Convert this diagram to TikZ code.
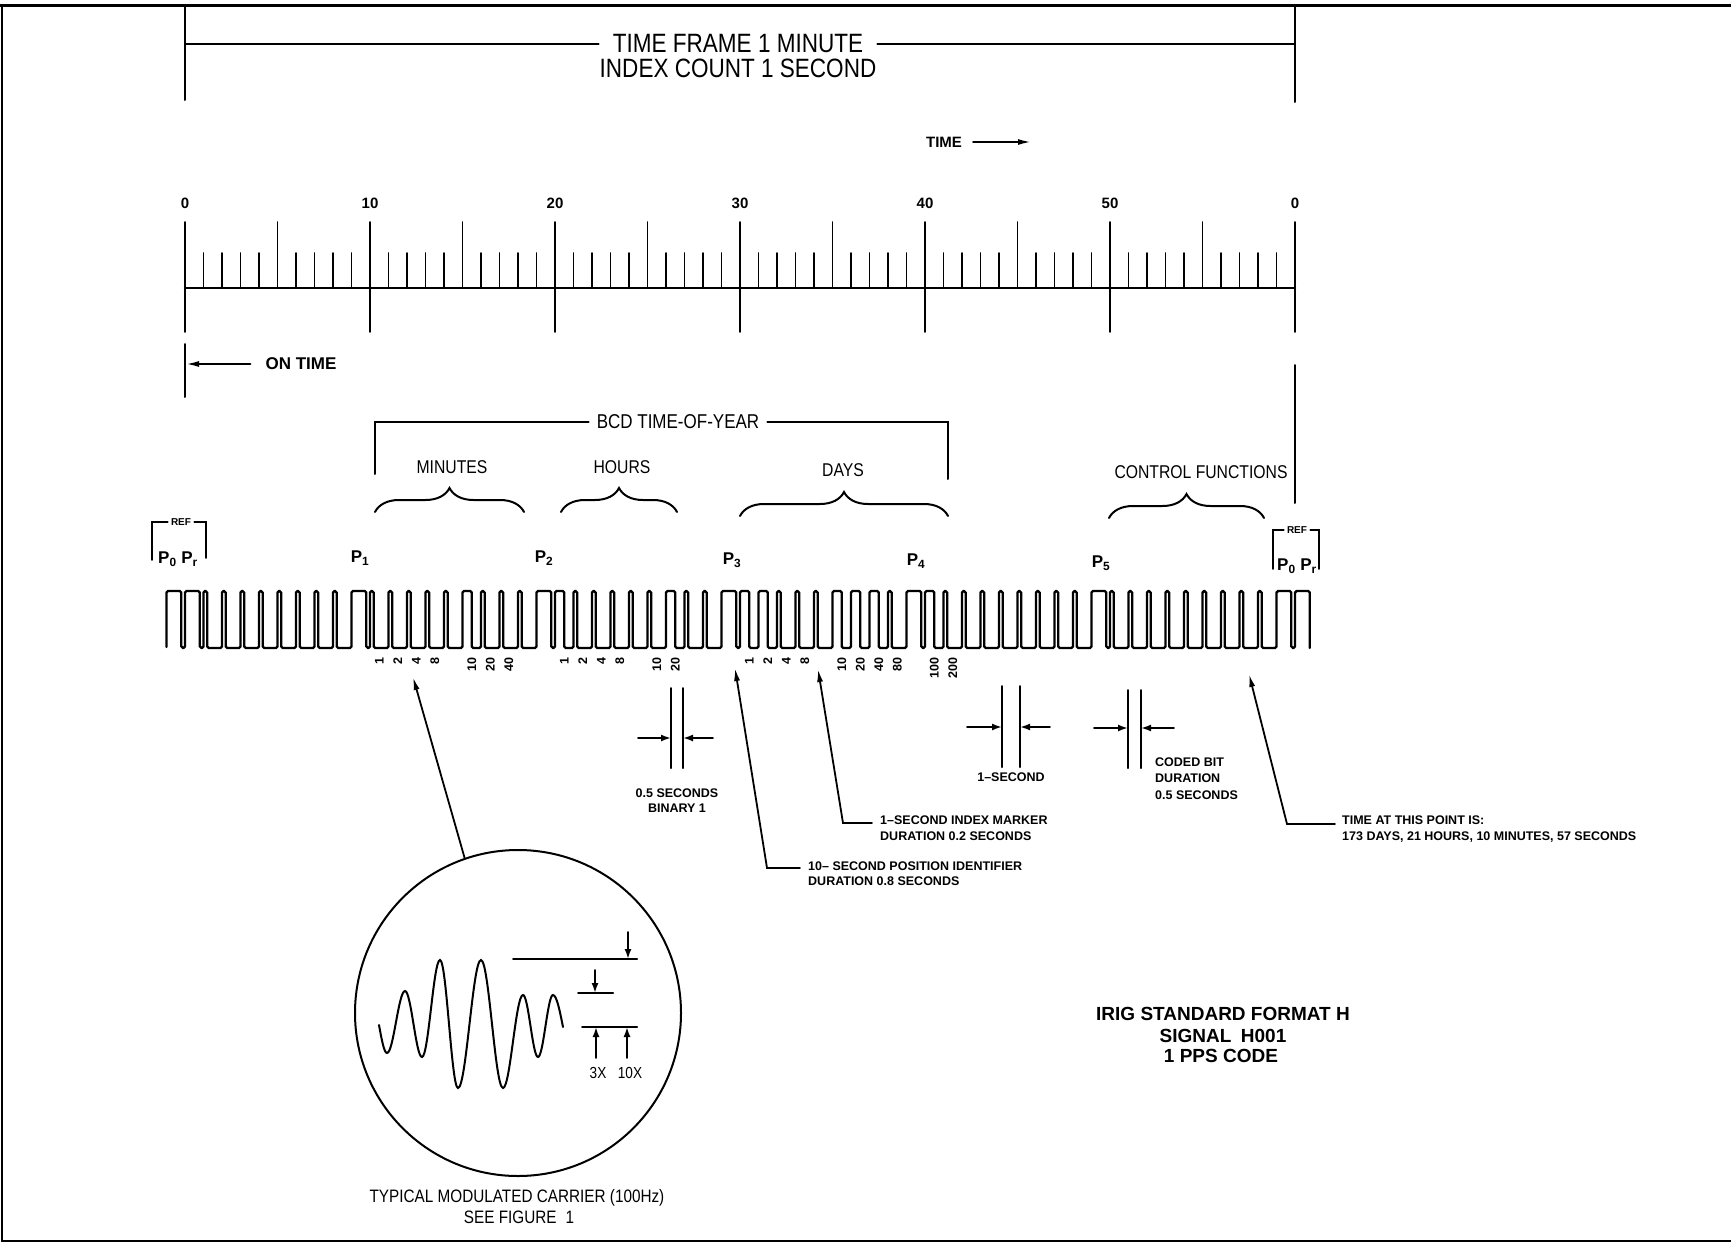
\documentclass[tikz,border=0pt]{standalone}
\usepackage{fontspec}
\setsansfont{Liberation Sans}
\newfontfamily\condsf{Liberation Sans}[FakeStretch=0.85]
\usetikzlibrary{arrows.meta, decorations.pathreplacing, positioning}

\tikzset{
  wavefm/.style={line width=2.3pt, rounded corners=1.6pt},
  ruleline/.style={line width=2pt},
  tickline/.style={line width=1.9pt},
  heavy/.style={font=\sffamily\bfseries\fontsize{#1}{#1}\selectfont, inner sep=0pt},
  heavy/.default=12.5,
  captxt/.style={font=\condsf\fontsize{#1}{#1}\selectfont, inner sep=0pt},
  captxt/.default=18.5,
  bitlabel/.style={font=\sffamily\bfseries\fontsize{12.5}{12.5}\selectfont, rotate=90, anchor=east, inner sep=0pt},
  leader/.style={line width=1.8pt, -{Latex[length=13pt,width=6pt]}},
  dimtip/.style={line width=1.8pt, -{Latex[length=10pt,width=7pt]}},
  bracecurve/.style={line width=2pt, decorate, decoration={brace, amplitude=24pt}},
}

\begin{document}
\begin{tikzpicture}[x=1pt, y=-1pt, line cap=round]
\useasboundingbox (0,0) rectangle (1731,1244);

% frame
\draw[line width=3pt] (0,6) -- (1731,6);
\draw[line width=2.5pt] (2,6) -- (2,1241) -- (1731,1241);

% time frame bracket
\node[captxt=26.5] (frame) at (738,44) {TIME FRAME 1 MINUTE};
\node[captxt=26.5] (index) at (738,68) {INDEX COUNT 1 SECOND};
\draw[ruleline] (185,6) -- (185,100);
\draw[ruleline] (1295,6) -- (1295,102);
\draw[ruleline] (185,44) -- ([xshift=-14pt]frame.west);
\draw[ruleline] ([xshift=14pt]frame.east) -- (1295,44);

% time direction
\node[heavy=15] (timelbl) at (944,142) {TIME};
\coordinate (timetip) at (1031,142);
\draw[leader] ([xshift=11pt]timelbl.east) -- (timetip);

% seconds scale
\foreach \s in {1,...,59}
  \draw[tickline] ({185+18.5*\s},288) -- ++(0,-35);
\foreach \s in {5,15,...,55}
  \draw[tickline] ({185+18.5*\s},288) -- ++(0,-66);
\foreach \s/\t [count=\n] in {0/0,10/10,20/20,30/30,40/40,50/50,60/0} {
  \draw[tickline] ({185+18.5*\s},222) -- ({185+18.5*\s},332);
  \node[heavy=15] (sec\n) at ({185+18.5*\s},203) {\t};
}
\draw[line width=2.6pt] (185,288) -- (1295,288);

% on time marker
\draw[ruleline] (185,344) -- (185,397);
\node[heavy=17] (ontime) at (301,364) {ON TIME};
\coordinate (ontip) at (186,364);
\draw[leader] ([xshift=-15pt]ontime.west) -- (ontip);
\draw[ruleline] (1295,365) -- (1295,503);

% BCD time-of-year
\node[captxt=20] (bcd) at (678,422) {BCD TIME-OF-YEAR};
\draw[ruleline] (375,474) -- (375,422) -- ([xshift=-8pt]bcd.west);
\draw[ruleline] ([xshift=8pt]bcd.east) -- (948,422) -- (948,479);

\node[captxt] (minutes) at (452,467) {MINUTES};
\node[captxt] (hours) at (622,467) {HOURS};
\node[captxt] (days) at (843,470) {DAYS};
\node[captxt] (control) at (1201,472) {CONTROL FUNCTIONS};
\draw[bracecurve] (375,512) -- (524,512);
\draw[bracecurve] (561,512) -- (677,512);
\draw[bracecurve] (740,516) -- (948,516);
\draw[bracecurve] (1109,518) -- (1264,518);

% reference markers
\node[heavy=10] (refa) at (181,522) {REF};
\draw[line width=1.6pt] (152,560) -- (152,522) -- ([xshift=-3pt]refa.west);
\draw[line width=1.6pt] ([xshift=3pt]refa.east) -- (206,522) -- (206,558);
\node[heavy=17] (pra) at (178,559) {P\textsubscript{0} P\textsubscript{r}};
\node[heavy=10] (refb) at (1297,530) {REF};
\draw[line width=1.6pt] (1273,569) -- (1273,530) -- ([xshift=-3pt]refb.west);
\draw[line width=1.6pt] ([xshift=3pt]refb.east) -- (1319,530) -- (1319,569);
\node[heavy=17] (prb) at (1297,566) {P\textsubscript{0} P\textsubscript{r}};

% position identifiers
\foreach \n/\x/\y in {1/360/558, 2/544/558, 3/732/560, 4/916/561, 5/1101/563}
  \node[heavy=17] (p\n) at (\x,\y) {P\textsubscript{\n}};

% pulse train, high time in tenths of a second
\draw[wavefm] (166.5,647)
  \foreach \d [count=\i from -1] in {8,8,
    2,2,2,2,2,2,2,2, 8,
    2,2,2,2,2,5,2,2,2, 8,
    5,2,2,2,2,2,5,2,2, 8,
    5,5,2,2,2,5,5,5,2, 8,
    5,2,2,2,2,2,2,2,2, 8,
    2,2,2,2,2,2,2,2,2, 8, 8} {
    -- ({185+18.5*\i},648) -- ({185+18.5*\i},591)
    -- ({185+18.5*\i+1.85*\d},591) -- ({185+18.5*\i+1.85*\d},648)
  };

% bit weights
\foreach \s/\w in {10/1,11/2,12/4,13/8,15/10,16/20,17/40,
                   20/1,21/2,22/4,23/8,25/10,26/20,
                   30/1,31/2,32/4,33/8,35/10,36/20,37/40,38/80,40/100,41/200}
  \node[bitlabel] (b\s) at ({194.25+18.5*\s},657) {\w};

% duration marks
\draw[ruleline] (671,688) -- (671,768) (683,688) -- (683,768);
\coordinate (halfa) at (671,738);
\coordinate (halfb) at (683,738);
\draw[dimtip] ([xshift=-33pt]halfa) -- (halfa);
\draw[dimtip] ([xshift=30pt]halfb) -- (halfb);
\node[heavy] (half) at (677,793) {0.5 SECONDS};
\node[heavy] (binary) at (677,808) {BINARY 1};

\draw[ruleline] (1002,686) -- (1002,767) (1020,686) -- (1020,767);
\coordinate (onea) at (1002,727);
\coordinate (oneb) at (1020,727);
\draw[dimtip] ([xshift=-35pt]onea) -- (onea);
\draw[dimtip] ([xshift=30pt]oneb) -- (oneb);
\node[heavy] (onesec) at (1011,777) {1–SECOND};

\draw[ruleline] (1128,690) -- (1128,768) (1141,690) -- (1141,768);
\coordinate (codea) at (1128,728);
\coordinate (codeb) at (1141,728);
\draw[dimtip] ([xshift=-34pt]codea) -- (codea);
\draw[dimtip] ([xshift=33pt]codeb) -- (codeb);
\node[heavy, anchor=west] (coded) at (1155,762) {CODED BIT};
\node[heavy, anchor=west] (codeddur) at (1155,778) {DURATION};
\node[heavy, anchor=west] (codedval) at (1155,795) {0.5 SECONDS};

% call-outs
\coordinate (mintip) at (413,677);
\coordinate (postip) at (735,668);
\coordinate (idxtip) at (818,669);
\coordinate (nowtip) at (1249,674);

\node[heavy, anchor=west] (posid) at (808,866) {10– SECOND POSITION IDENTIFIER};
\node[heavy, anchor=west] (posdur) at (808,881) {DURATION 0.8 SECONDS};
\draw[leader] ([shift={(-8,2)}]posid.west) -- ++(-33,0) -- (postip);

\node[heavy, anchor=west] (idx) at (880,820) {1–SECOND INDEX MARKER};
\node[heavy, anchor=west] (idxdur) at (880,836) {DURATION 0.2 SECONDS};
\draw[leader] ([shift={(-8,3)}]idx.west) -- ++(-29,0) -- (idxtip);

\node[heavy, anchor=west] (now) at (1342,820) {TIME AT THIS POINT IS:};
\node[heavy, anchor=west] (nowval) at (1342,837) {173 DAYS, 21 HOURS, 10 MINUTES, 57 SECONDS};
\draw[leader] ([shift={(-7,4)}]now.west) -- ++(-48,0) -- (nowtip);

% carrier detail
\node[draw, circle, line width=2pt, minimum size=326pt, inner sep=0pt] (lens) at (518,1013) {};
\draw[leader] (lens.109) -- (mintip);
\draw[line width=2pt] (379,1025) sin (387,1053)
  cos (396,1022) sin (405,991) cos (413.5,1024) sin (422,1057)
  cos (431,1008.5) sin (440,960) cos (449,1024) sin (458,1088)
  cos (469.5,1024) sin (481,960) cos (492,1024) sin (503,1088)
  cos (513,1041.5) sin (523,995) cos (530.5,1026) sin (538,1057)
  cos (545.5,1026) sin (553,995) cos (563,1027);
\draw[ruleline] (513,959) -- (637,959);
\draw[ruleline] (578,993) -- (613,993);
\draw[ruleline] (582,1027) -- (637,1027);
\coordinate (tenhi) at (628,959);
\coordinate (threehi) at (595,993);
\coordinate (threelo) at (596,1027);
\coordinate (tenlo) at (627,1027);
\draw[dimtip] ([yshift=27pt]tenhi) -- (tenhi);
\draw[dimtip] ([yshift=23pt]threehi) -- (threehi);
\draw[dimtip] ([yshift=-31pt]threelo) -- (threelo);
\draw[dimtip] ([yshift=-31pt]tenlo) -- (tenlo);
\node[captxt=16] (three) at (598,1073) {3X};
\node[captxt=16] (ten) at (630,1073) {10X};
\node[captxt=18] (carrier) at (517,1198) {TYPICAL MODULATED CARRIER (100Hz)};
\node[captxt=18] (seefig) at (519,1217) {SEE FIGURE\enspace 1};

% title block
\node[heavy=19] (irig) at (1223,1014) {IRIG STANDARD FORMAT H};
\node[heavy=19] (signal) at (1223,1036) {SIGNAL\enspace H001};
\node[heavy=19] (pps) at (1221,1056) {1 PPS CODE};
\end{tikzpicture}
\end{document}
